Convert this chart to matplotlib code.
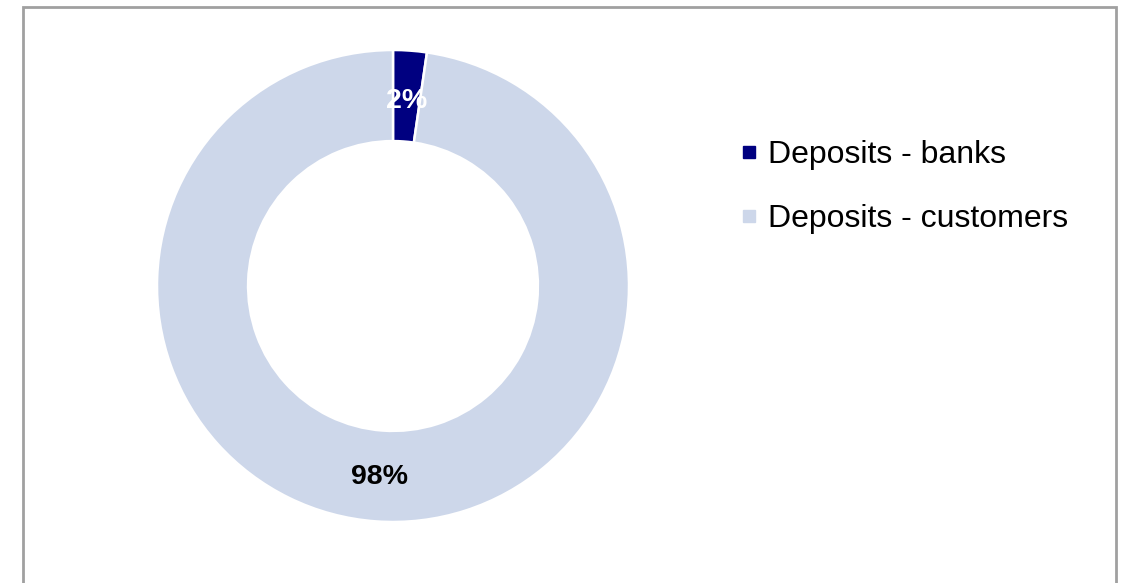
import matplotlib.pyplot as plt
from matplotlib.patches import Rectangle
from matplotlib.lines import Line2D

plt.rcParams['font.family'] = ['Liberation Sans', 'DejaVu Sans']

# deposit mix (%)
labels = ['Deposits - banks', 'Deposits - customers']
shares = [2.3, 97.7]
colors = ['#000080', '#cdd7ea']
label_colors = ['white', 'black']

W, H = 1121, 583
fig = plt.figure(figsize=(W / 100, H / 100), dpi=100)

# donut axes, kept square in pixels
cx, cy, r = 393, 286, 236
ax = fig.add_axes([(cx - r) / W, (H - cy - r) / H, 2 * r / W, 2 * r / H])
ax.set_aspect('equal')

wedges, texts, autotexts = ax.pie(
    shares, colors=colors, startangle=90, counterclock=False, radius=1,
    autopct='%.0f%%', pctdistance=0.80,
    wedgeprops=dict(width=0.386, edgecolor='white', linewidth=1.8),
    textprops=dict(fontsize=20.5, fontweight='bold'))
for t, c in zip(autotexts, label_colors):
    t.set_color(c)
    # labels sit a little lower than the ring centre line
    x, y = t.get_position()
    t.set_position((x, y - 0.012))
ax.set_xlim(-1, 1)
ax.set_ylim(-1, 1)

handles = [Line2D([], [], marker='s', linestyle='none', markersize=8,
                  markerfacecolor=c, markeredgecolor=c) for c in colors]
fig.legend(handles, labels, loc='upper left', bbox_to_anchor=(723 / W, 1 - 124 / H),
           frameon=False, fontsize=23, handlelength=0.6, handletextpad=0.3,
           labelspacing=1.06, borderpad=0)

# outer chart frame
fig.add_artist(Rectangle((23 / W, -0.05), (1116 - 23) / W, 1.05 - 7 / H,
                         transform=fig.transFigure, fill=False,
                         edgecolor='#a0a0a0', linewidth=2))

fig.savefig('out.png', dpi=100)
